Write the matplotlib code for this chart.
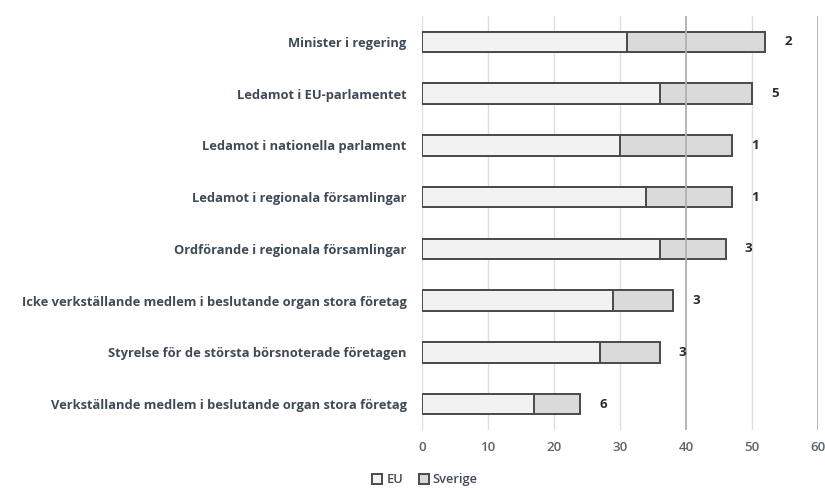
import matplotlib.pyplot as plt
import numpy as np

# ---------- DATA ----------
categories = [
    "Minister i regering",
    "Ledamot i EU-parlamentet",
    "Ledamot i nationella parlament",
    "Ledamot i regionala församlingar",
    "Ordförande i regionala församlingar",
    "Icke verkställande medlem i beslutande organ stora företag",
    "Styrelse för de största börsnoterade företagen",
    "Verkställande medlem i beslutande organ stora företag",
]
eu_values = [31, 36, 30, 34, 36, 29, 27, 17]
se_values = [52, 50, 47, 47, 46, 38, 36, 24]
ranks = ["2", "5", "1", "1", "3", "3", "3", "6"]
xticks = [0, 10, 20, 30, 40, 50, 60]

TEXT = "#3f4a57"
EDGE = "#4a4a4a"

plt.rcParams["font.family"] = ["Open Sans", "DejaVu Sans"]

fig = plt.figure(figsize=(8.25, 4.92), dpi=100)
ax = fig.add_axes([0.5115, 0.126, 0.48, 0.8415])

y = np.arange(len(categories))

# light gridlines, darker at 40 and 60
for t in xticks:
    dark = t in (40, 60)
    ax.axvline(t, color="#b0b0b0" if dark else "#dedede",
               lw=1.3 if dark else 1.0, zorder=0 if not dark else 3)

ax.barh(y, se_values, height=0.4, color="#dadada", edgecolor=EDGE,
        linewidth=1.4, zorder=2, label="Sverige")
ax.barh(y, eu_values, height=0.4, color="#f2f2f2", edgecolor=EDGE,
        linewidth=1.4, zorder=2, label="EU")

for yi, v, r in zip(y, se_values, ranks):
    ax.text(v + 3.5, yi, r, ha="center", va="center", fontsize=9.5,
            fontweight="bold", color="#2a2a2a")

ax.set_xlim(0, 60)
ax.set_ylim(len(categories) - 0.5, -0.5)
ax.set_yticks(y)
ax.set_yticklabels(categories, fontsize=9.3, fontweight="bold", color=TEXT)
ax.set_xticks(xticks)
ax.set_xticklabels([str(t) for t in xticks], fontsize=9.5, color="#5a6470",
                   fontweight="semibold")
ax.tick_params(axis="both", length=0)
ax.tick_params(axis="x", pad=8)
ax.tick_params(axis="y", pad=11)
for s in ax.spines.values():
    s.set_visible(False)

handles, labels = ax.get_legend_handles_labels()
fig.legend(handles[::-1], labels[::-1], loc="center", bbox_to_anchor=(0.515, 0.025),
           ncol=2, frameon=False, handlelength=0.8,
           handleheight=0.8, handletextpad=0.3, columnspacing=1.2,
           labelcolor=TEXT, prop={"weight": "semibold", "size": 9.3})

fig.savefig("out.png", dpi=100)
